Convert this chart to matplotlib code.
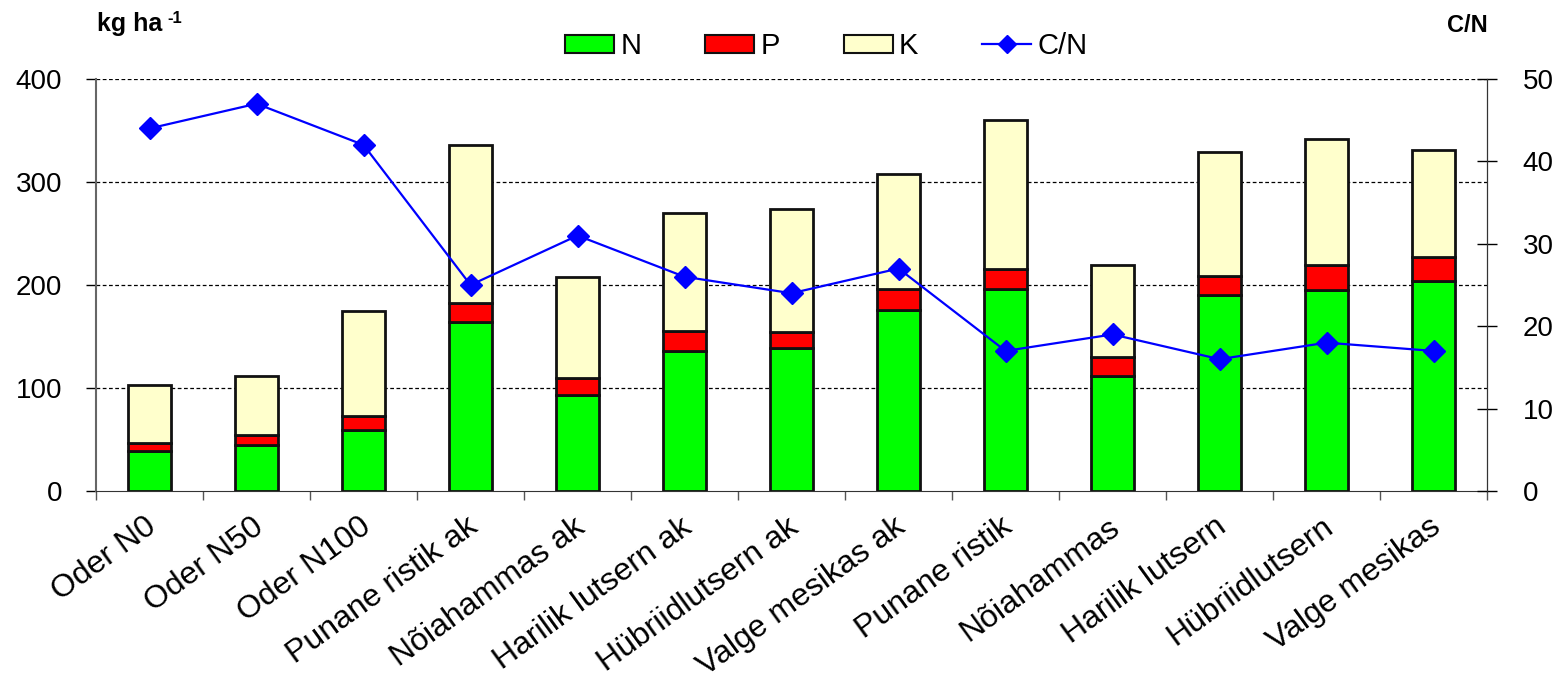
import matplotlib
matplotlib.use("Agg")
import matplotlib.pyplot as plt
from matplotlib.lines import Line2D
from matplotlib.patches import Patch
from matplotlib.transforms import ScaledTranslation
import numpy as np

plt.rcParams['font.family'] = ['Liberation Sans', 'DejaVu Sans']

categories = ["Oder N0", "Oder N50", "Oder N100", "Punane ristik ak", "Nõiahammas ak",
              "Harilik lutsern ak", "Hübriidlutsern ak", "Valge mesikas ak", "Punane ristik",
              "Nõiahammas", "Harilik lutsern", "Hübriidlutsern", "Valge mesikas"]
n_vals = [39, 45, 59, 164, 93, 136, 139, 176, 196, 112, 190, 195, 204]
p_vals = [8, 9, 14, 19, 17, 19, 15, 20, 20, 18, 19, 24, 23]
k_vals = [56, 58, 102, 153, 98, 115, 120, 112, 144, 89, 120, 123, 104]
cn_vals = [44, 47, 42, 25, 31, 26, 24, 27, 17, 19, 16, 18, 17]
left_ticks = [0, 100, 200, 300, 400]
right_ticks = [0, 10, 20, 30, 40, 50]

fig = plt.figure(figsize=(15.62, 6.87), dpi=100)
ax = fig.add_axes([0.0615, 0.2853, 0.8905, 0.5997])
x = np.arange(len(categories))
w = 0.40
edge = dict(edgecolor="#111111", linewidth=2.0)
ax.bar(x, n_vals, w, color="#00ff00", **edge, zorder=3)
ax.bar(x, p_vals, w, bottom=n_vals, color="#ff0000", **edge, zorder=3)
bottom_k = np.array(n_vals) + np.array(p_vals)
ax.bar(x, k_vals, w, bottom=bottom_k, color="#ffffcc", **edge, zorder=3)

ax.set_xlim(-0.5, len(categories) - 0.5)
ax.set_ylim(0, 400)
ax.set_yticks(left_ticks)
ax.tick_params(axis="y", labelsize=20, length=7.5, width=1, direction="out", pad=17)
for v in left_ticks[1:]:
    ax.axhline(v, color="black", linestyle=(0, (3, 2)), linewidth=0.9, zorder=1)

# ticks sit on the category boundaries, labels under the bar centres
ax.set_xticks(np.arange(len(categories) + 1) - 0.5, minor=False)
ax.set_xticklabels([])
ax.tick_params(axis="x", length=6.5, width=1, direction="out", color="#555555")
ax.set_xticks(x, minor=True)
ax.set_xticklabels(categories, minor=True, rotation=36, ha="right", va="top",
                   rotation_mode="anchor", fontsize=23)
ax.tick_params(axis="x", which="minor", length=0, pad=15)
shift = ScaledTranslation(-5 / 100, 0, fig.dpi_scale_trans)
for lbl in ax.get_xticklabels(minor=True):
    lbl.set_transform(lbl.get_transform() + shift)

ax.spines["top"].set_visible(False)
ax.spines["left"].set_color("#666666")
ax.spines["left"].set_linewidth(1.5)
ax.spines["bottom"].set_color("#333333")

ax2 = ax.twinx()
ax2.plot(x, cn_vals, color="#0000ff", linewidth=1.6, marker="D", markersize=11,
         markerfacecolor="#0000ff", markeredgecolor="#0000ff", zorder=5)
ax2.set_ylim(0, 50)
ax2.set_yticks(right_ticks)
ax2.tick_params(axis="y", labelsize=20, length=15, width=1, direction="inout", pad=18)
ax2.spines["top"].set_visible(False)
ax2.spines["left"].set_visible(False)
ax2.spines["bottom"].set_visible(False)
ax2.spines["right"].set_color("#333333")

fig.text(97 / 1562, 1 - 31 / 687, "kg ha", fontsize=18, fontweight="bold",
         ha="left", va="baseline")
fig.text(167 / 1562, 1 - 23 / 687, "-1", fontsize=12, fontweight="bold",
         ha="left", va="baseline")
fig.text(1488 / 1562, 1 - 25 / 687, "C/N", fontsize=17, fontweight="bold",
         ha="right", va="center")

handles = [Patch(facecolor="#00ff00", edgecolor="#111111", linewidth=1.5, label="N"),
           Patch(facecolor="#ff0000", edgecolor="#111111", linewidth=1.5, label="P"),
           Patch(facecolor="#ffffcc", edgecolor="#111111", linewidth=1.5, label="K"),
           Line2D([0], [0], color="#0000ff", linewidth=1.6, marker="D", markersize=9,
                  label="C/N")]
fig.legend(handles=handles, loc="center", bbox_to_anchor=(0.529, 0.933), ncol=4,
           frameon=False, fontsize=21, handlelength=1.68, handleheight=0.58,
           columnspacing=2.2, handletextpad=0.2, borderaxespad=0, borderpad=0)

fig.savefig("out.png", dpi=100)
